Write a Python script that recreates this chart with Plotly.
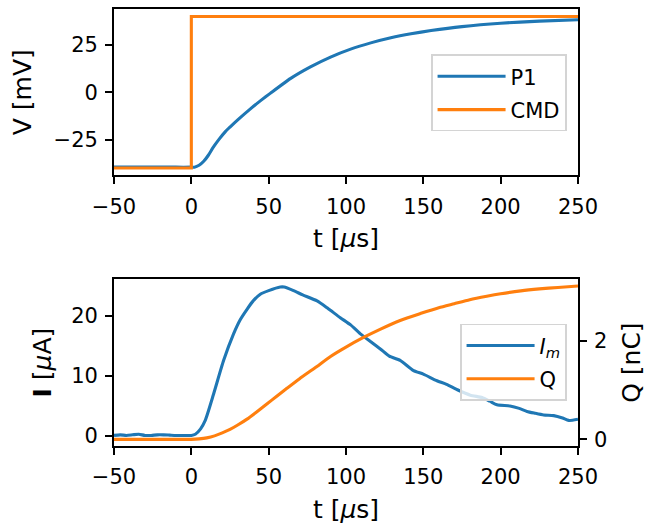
import plotly.graph_objects as go

# ---- data ----
t_p1 = [-50, -40, -30, -20, -10, 0, 2, 5, 8, 11, 14, 18, 22, 25, 30, 38, 45, 51, 64, 77, 90, 103, 116, 129, 142, 155, 175, 200, 225, 250]
v_p1 = [-39.5, -39.6, -39.5, -39.5, -39.6, -39.6, -39.6, -38.6, -36.5, -33.3, -29.3, -24.8, -20.8, -18.4, -14.6, -8.9, -4.3, -0.6, 7.2, 13.4, 18.6, 22.8, 26.1, 28.8, 30.9, 32.6, 34.7, 36.5, 37.6, 38.3]

t_cmd = [-50, 0, 0, 250]
v_cmd = [-40, -40, 40, 40]

t_im = [-50, -46, -42, -38, -34, -30, -26, -22, -18, -14, -10, -6, -2, 0, 2.6, 6, 9, 14.4, 20.9, 27.3, 31.7, 36, 40, 44.6, 50, 57.5, 60, 66.1, 72, 81.3, 88, 96.3, 103, 109.3, 116, 122.2, 128, 135, 143.7, 150, 158.8, 165, 172, 180.4, 188, 193, 197.6, 206, 212, 217, 222, 227.8, 234.3, 240, 244, 250]
i_im = [0.1, 0.2, 0.1, 0.2, 0.3, 0.1, 0.1, 0.2, 0.2, 0.15, 0.1, 0.1, 0.1, 0.1, 0.3, 1.2, 2.6, 7.0, 12.6, 17.0, 19.4, 21.1, 22.5, 23.6, 24.2, 24.8, 24.8, 24.2, 23.5, 22.5, 21.3, 19.7, 18.5, 17.0, 15.7, 14.5, 13.3, 12.6, 10.9, 10.3, 9.2, 8.6, 7.7, 6.8, 6.4, 5.8, 5.2, 5.0, 4.6, 4.1, 3.8, 3.5, 3.4, 3.0, 2.6, 2.8]

t_q = [-50, -25, 0, 5, 10, 15, 20, 25, 30, 36, 42, 49, 55, 62, 70, 80, 90, 100, 111, 122, 135, 148, 160, 170, 180, 191, 200, 213, 225, 237, 250]
q_q = [0.0, 0.0, 0.0, 0.01, 0.03, 0.07, 0.13, 0.2, 0.29, 0.41, 0.55, 0.72, 0.87, 1.04, 1.23, 1.45, 1.68, 1.87, 2.06, 2.23, 2.41, 2.55, 2.67, 2.75, 2.83, 2.90, 2.95, 3.01, 3.05, 3.08, 3.11]

x_ticks = [-50, 0, 50, 100, 150, 200, 250]
v_ticks = [-25, 0, 25]
i_ticks = [0, 10, 20]
q_ticks = [0, 2]

BLUE = "#1f77b4"
ORANGE = "#ff7f0e"
FONT = "DejaVu Sans"
FS = 21
LW = 3.1

fig = go.Figure()
fig.add_trace(go.Scatter(x=t_p1, y=v_p1, mode="lines", name="P1", legendgroup="a",
                         line=dict(color=BLUE, width=LW, shape="spline", smoothing=0.5),
                         xaxis="x", yaxis="y", legend="legend"))
fig.add_trace(go.Scatter(x=t_cmd, y=v_cmd, mode="lines", name="CMD", legendgroup="b",
                         line=dict(color=ORANGE, width=LW), xaxis="x", yaxis="y", legend="legend"))
fig.add_trace(go.Scatter(x=t_im, y=i_im, mode="lines", name="<i>I<sub>m</sub></i>", legendgroup="c",
                         line=dict(color=BLUE, width=LW, shape="spline", smoothing=0.6),
                         xaxis="x2", yaxis="y2", legend="legend2"))
fig.add_trace(go.Scatter(x=t_q, y=q_q, mode="lines", name="Q", legendgroup="d",
                         line=dict(color=ORANGE, width=LW, shape="spline", smoothing=0.6),
                         xaxis="x2", yaxis="y3", legend="legend2"))

axis_common = dict(showline=True, linecolor="black", linewidth=1.7, ticks="outside", ticklen=7, tickwidth=1.7,
                   tickcolor="black", showgrid=False, zeroline=False,
                   tickfont=dict(family=FONT, size=FS, color="black"))

legend_common = dict(xanchor="right", yanchor="top", bgcolor="rgba(255,255,255,0.8)",
                     bordercolor="#d4d4d4", borderwidth=1.7, font=dict(family=FONT, size=FS),
                     tracegroupgap=3, itemwidth=68)

fig.update_layout(
    width=656, height=527,
    margin=dict(l=114, r=78, t=7, b=81),
    paper_bgcolor="white", plot_bgcolor="white",
    font=dict(family=FONT, size=FS, color="black"),
    xaxis=dict(domain=[0, 1], anchor="y", range=[-50, 250], tickvals=x_ticks, mirror=True, ticklabelstandoff=4,
               title=dict(text="t [<i>μ</i>s]", standoff=12), **axis_common),
    yaxis=dict(domain=[0.619, 1], anchor="x", range=[-44, 44], tickvals=v_ticks, mirror=True, ticklabelstandoff=3,
               title=dict(text="V [mV]", standoff=15), **axis_common),
    xaxis2=dict(domain=[0, 1], anchor="y2", range=[-50, 250], tickvals=x_ticks, mirror=True, ticklabelstandoff=4,
                title=dict(text="t [<i>μ</i>s]", standoff=12), **axis_common),
    yaxis2=dict(domain=[0, 0.3816], anchor="x2", range=[-1.66, 26.1], tickvals=i_ticks, mirror=True, ticklabelstandoff=3,
                title=dict(text="<b>I</b> [<i>μ</i>A]", standoff=12), **axis_common),
    yaxis3=dict(overlaying="y2", side="right", anchor="x2", range=[-0.135, 3.246], tickvals=q_ticks, ticklabelstandoff=3,
                title=dict(text="Q [nC]", standoff=16), **axis_common),
    legend=dict(x=0.976, y=0.896, **legend_common),
    legend2=dict(x=0.976, y=0.28, **legend_common),
    showlegend=True,
)

fig.write_html("out.html")
